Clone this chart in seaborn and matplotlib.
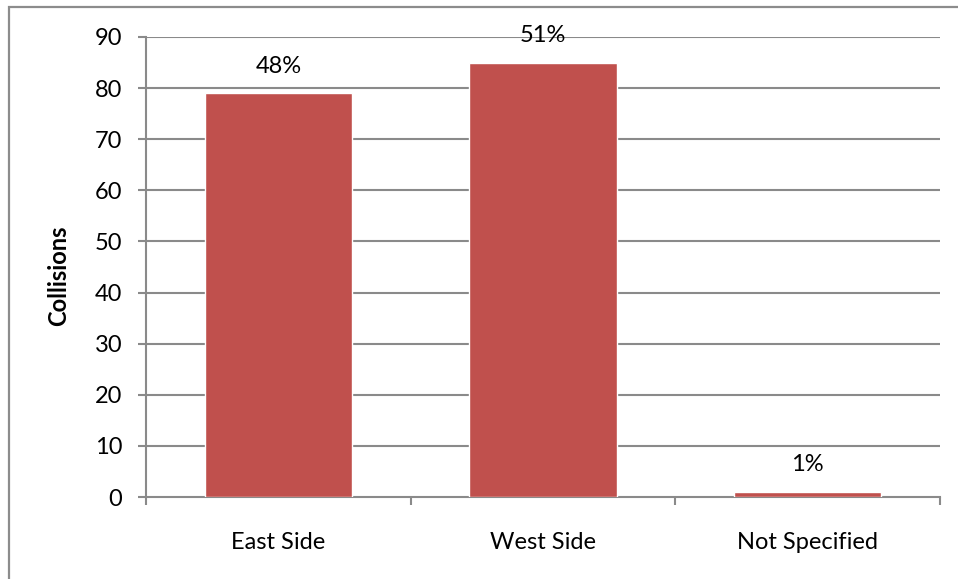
import matplotlib
matplotlib.use("Agg")
import matplotlib.pyplot as plt
from matplotlib.patches import Rectangle
import seaborn as sns
import pandas as pd

categories = ["East Side", "West Side", "Not Specified"]
collisions = [79, 85, 1]
share_labels = ["48%", "51%", "1%"]
y_ticks = [0, 10, 20, 30, 40, 50, 60, 70, 80, 90]

sns.set_theme(style="white")
plt.rcParams["font.family"] = ["Lato", "DejaVu Sans"]

W, H, DPI = 958, 579, 100
FS = 17
fig = plt.figure(figsize=(W / DPI, H / DPI), dpi=DPI)
fig.patch.set_facecolor("white")

# outer chart frame (only its top and left edges fall inside the image)
fig.patches.append(Rectangle((9 / W, -0.05), 1.2, 1 - 7 / H + 0.05,
                             transform=fig.transFigure, fill=False,
                             edgecolor="#8c8c8c", linewidth=1.6, zorder=0))

ax = fig.add_axes([146 / W, 1 - 497 / H, (940 - 146) / W, (497 - 37) / H])

df = pd.DataFrame({"Area": categories, "Collisions": collisions})
sns.barplot(data=df, x="Area", y="Collisions", color="#C0504D",
            saturation=1, width=0.556, ax=ax, zorder=3)

ax.set_xlim(-0.5, len(categories) - 0.5)
ax.set_ylim(0, 90)
ax.set_yticks(y_ticks)
ax.set_yticklabels([str(t) for t in y_ticks], fontsize=FS, color="black")

grid_c = "#8a8a8a"
for t in y_ticks[1:]:
    ax.axhline(t, color=grid_c, linewidth=1.5, zorder=1)

for side in ["top", "right"]:
    ax.spines[side].set_visible(False)
for side in ["left", "bottom"]:
    ax.spines[side].set_color(grid_c)
    ax.spines[side].set_linewidth(1.5)

ax.tick_params(axis="y", direction="out", length=6, width=1.5,
               color=grid_c, pad=11, left=True)
# category labels centred, tick marks at category boundaries
ax.set_xticks(range(len(categories)))
ax.set_xticklabels(categories, fontsize=FS, color="black")
ax.tick_params(axis="x", which="major", length=0, pad=25)
ax.set_xticks([i - 0.5 for i in range(len(categories) + 1)], minor=True)
ax.tick_params(axis="x", which="minor", direction="out", length=6,
               width=1.5, color=grid_c, bottom=True)

ax.set_xlabel("")
ax.set_ylabel("Collisions", fontsize=FS, fontweight="bold", color="black")
ax.yaxis.set_label_coords(-(146 - 70) / (940 - 146), 0.48)

for bar, val, lab in zip(ax.patches, collisions, share_labels):
    cx = bar.get_x() + bar.get_width() / 2
    ax.annotate(lab, (cx, val), xytext=(0, 19.5), textcoords="offset points",
                ha="center", va="center", fontsize=FS, color="black",
                zorder=5, annotation_clip=False)

fig.savefig("out.png", dpi=DPI)
